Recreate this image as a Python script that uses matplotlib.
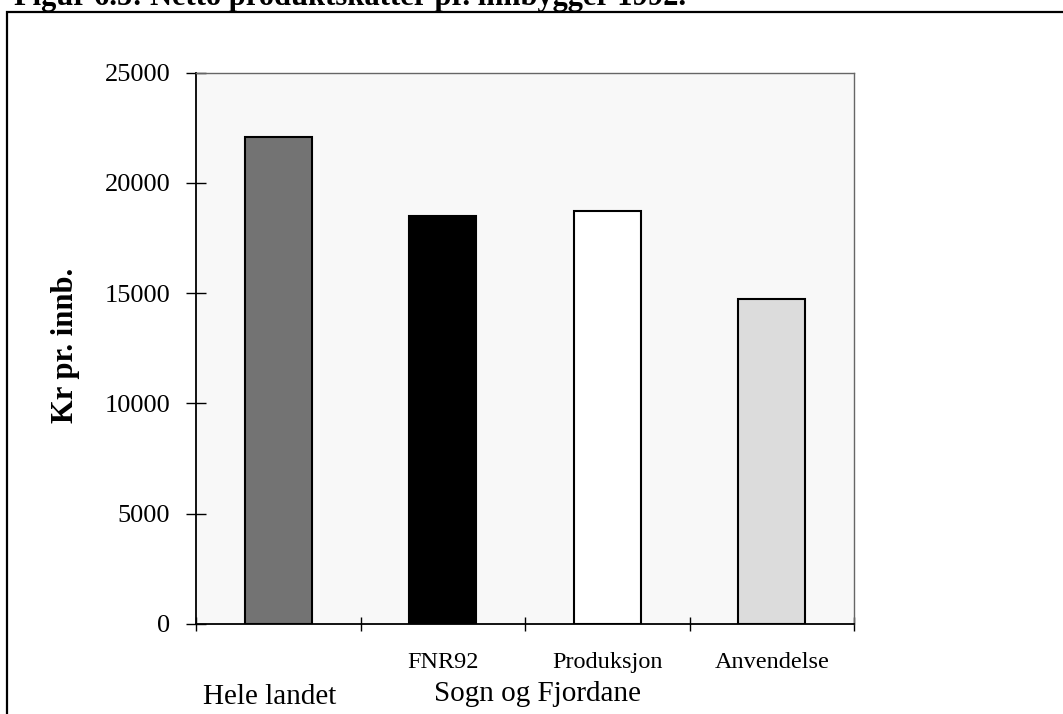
import numpy as np
import matplotlib.pyplot as plt
from matplotlib.patches import Rectangle

'''Data'''
categories = ['Hele landet', 'FNR92', 'Produksjon', 'Anvendelse']
values = [22100, 18500, 18750, 14750]
colors = ['#737373', '#000000', '#ffffff', '#dcdcdc']
yticks = [0, 5000, 10000, 15000, 20000, 25000]
title = 'Figur 6.5: Netto produktskatter pr. innbygger 1992.'
ylabel = 'Kr pr. innb.'
group_label = 'Sogn og Fjordane'

plt.rcParams['font.family'] = ['Liberation Serif', 'DejaVu Serif']

W, H = 1063, 714
fig = plt.figure(figsize=(W / 100, H / 100), dpi=100)

# outer frame of the scanned figure (runs off the right and bottom edge)
frame = Rectangle((7 / W, 0 - 0.05), 1.1, 1 - 12 / H + 0.05, transform=fig.transFigure,
                  fill=False, edgecolor='black', linewidth=1.6)
fig.patches.append(frame)

# title, cut off at the top like in the scan
fig.text(14 / W, 1 - 5 / H, title, fontsize=22, fontweight='bold', va='baseline', ha='left')

ax = fig.add_axes([196 / W, 1 - 624 / H, (854 - 196) / W, (624 - 72.7) / H])
ax.set_facecolor('#f8f8f8')

x = np.arange(len(categories))
ax.bar(x, values, width=0.41, color=colors, edgecolor='black', linewidth=1.5, zorder=2)

ax.set_xlim(-0.5, len(categories) - 0.5)
ax.set_ylim(0, 25000)
ax.set_yticks(yticks)
ax.set_yticklabels([str(v) for v in yticks], fontsize=19)
ax.set_xticks(np.arange(len(categories) + 1) - 0.5)
ax.set_xticklabels([])
ax.tick_params(axis='y', direction='inout', length=14, width=1, pad=11.5)
ax.tick_params(axis='x', direction='inout', length=10, width=1)

for s in ['top', 'right']:
    ax.spines[s].set_color('#666666')
    ax.spines[s].set_linewidth(1)
for s in ['left', 'bottom']:
    ax.spines[s].set_color('black')
    ax.spines[s].set_linewidth(1.3)

# category labels under the bars
tr = ax.get_xaxis_transform()
for i in range(1, len(categories)):
    ax.text(x[i], (624 - 668) / 551.3, categories[i], transform=tr,
            ha='center', va='baseline', fontsize=17.5)
ax.text(-0.5 + (270 - 196) / 164.5, (624 - 704) / 551.3, categories[0], transform=tr,
        ha='center', va='baseline', fontsize=21)
ax.text(-0.5 + (537 - 196) / 164.5, (624 - 701) / 551.3, group_label, transform=tr,
        ha='center', va='baseline', fontsize=21)

fig.text(66 / W, 1 - 345 / H, ylabel, rotation=90, fontsize=22, fontweight='bold',
         ha='center', va='center')

plt.savefig('out.png', dpi=100)
